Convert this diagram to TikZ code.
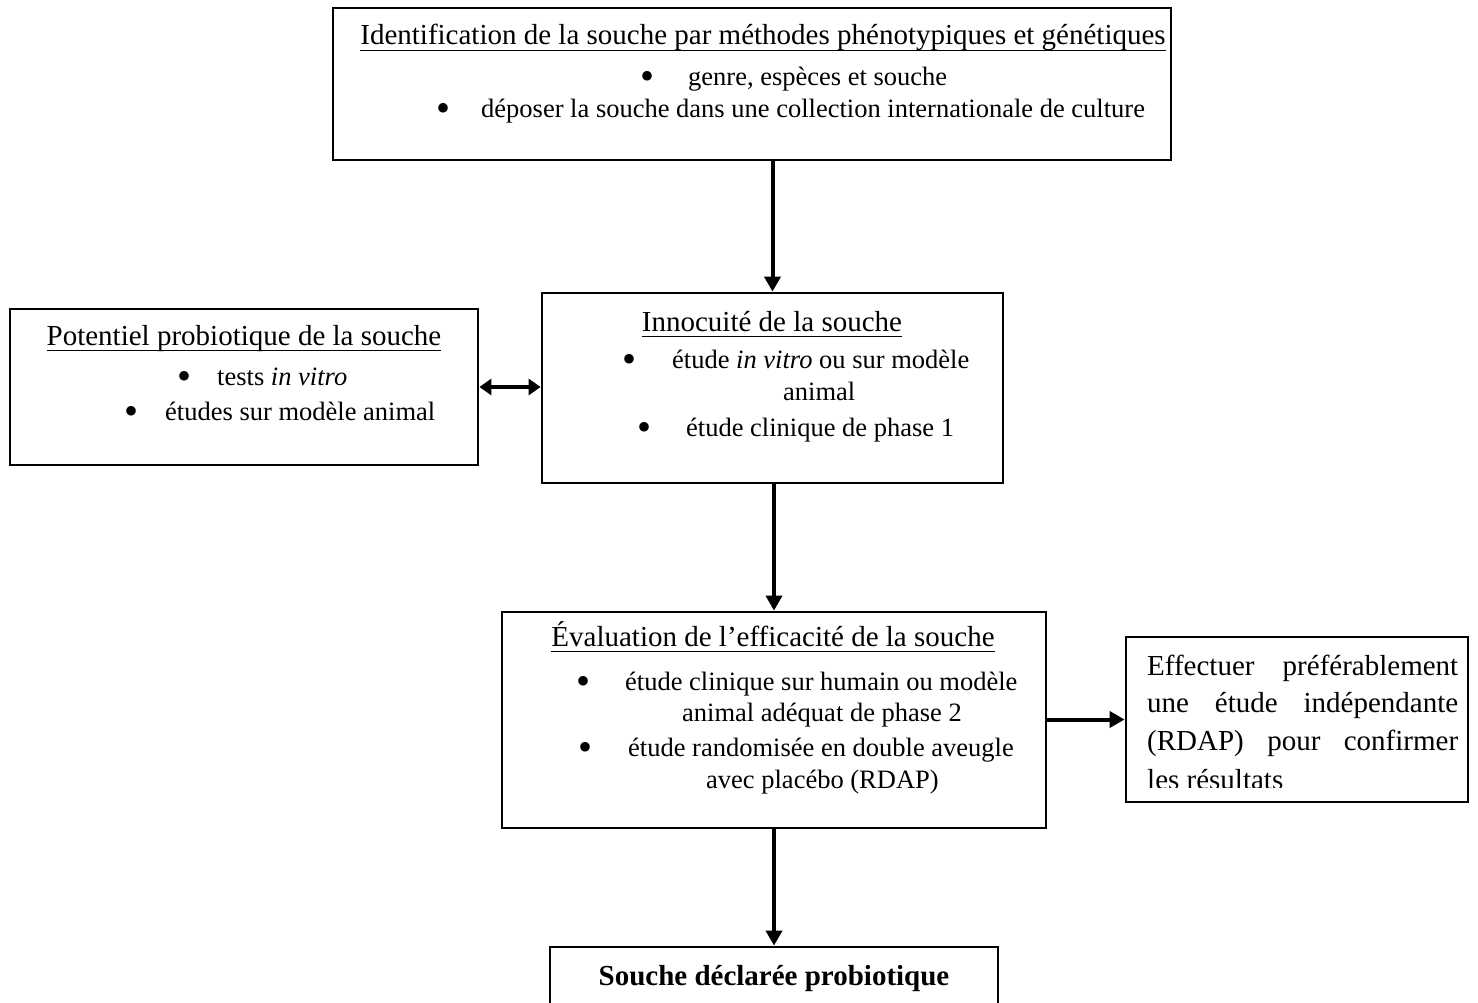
\documentclass[tikz,border=0pt]{standalone}
\usepackage{fontspec}
\setmainfont{Liberation Serif}
\usetikzlibrary{arrows.meta}
\newcommand\bodyf{\fontsize{26.5}{32}\selectfont}
\newcommand\titlef{\fontsize{29}{35}\selectfont}
\newcommand\myul[1]{\setbox0\hbox{#1}\rlap{\rule[-6.4pt]{\wd0}{1.5pt}}\box0}
\newcommand\bigbul{\raisebox{-4pt}{\fontsize{40}{40}\selectfont •}}
\tikzset{
  box/.style={draw, line width=2.8pt, rectangle, inner sep=0pt, fill=white},
  arr/.style={line width=4pt, -{Triangle[length=15pt,width=16pt]}},
  darr/.style={line width=4pt, {Triangle[length=12pt,width=16pt]}-{Triangle[length=12pt,width=16pt]}},
  ln/.style={anchor=base west, inner sep=0pt, font=\bodyf},
  rl/.style={anchor=base west, inner sep=0pt, font=\titlef},
  ttl/.style={anchor=base, inner sep=0pt, font=\titlef},
  bul/.style={anchor=base, inner sep=0pt, font=\bodyf},
}
\begin{document}
\begin{tikzpicture}[x=1pt,y=-1pt]
\clip (0,0) rectangle (1478,1003);
\fill[white] (0,0) rectangle (1478,1003);

% boxes
\node[box, minimum width=838pt, minimum height=152pt] (top) at (752,84) {};
\node[box, minimum width=461pt, minimum height=190pt] (inno) at (772.5,388) {};
\node[box, minimum width=468pt, minimum height=156pt] (pot) at (244,387) {};
\node[box, minimum width=544pt, minimum height=216pt] (eval) at (774,720) {};
\node[box, minimum width=342pt, minimum height=165pt] (conf) at (1297,719.5) {};
\node[box, minimum width=448pt, minimum height=83pt] (decl) at (774,988.5) {};

% top box text
\node[ttl] (t0) at (763,45) {\myul{Identification de la souche par méthodes phénotypiques et génétiques}};
\node[bul] (tb1) at (647,86) {\bigbul};
\node[ln] (t1) at (688,86) {genre, espèces et souche};
\node[bul] (tb2) at (443,118) {\bigbul};
\node[ln] (t2) at (481,118) {déposer la souche dans une collection internationale de culture};

% innocuite text
\node[ttl] (i0) at (772,331) {\myul{Innocuité de la souche}};
\node[bul] (ib1) at (629,368) {\bigbul};
\node[ln] (i1) at (672,368) {étude \textit{in vitro} ou sur modèle};
\node[ln] (i2) at (783,400) {animal};
\node[bul] (ib3) at (644,436) {\bigbul};
\node[ln] (i3) at (686,436) {étude clinique de phase 1};

% potentiel text
\node[ttl] (p0) at (244,345) {\myul{Potentiel probiotique de la souche}};
\node[bul] (pb1) at (184,385) {\bigbul};
\node[ln] (p1) at (217,385) {tests \textit{in vitro}};
\node[bul] (pb2) at (132,420) {\bigbul};
\node[ln] (p2) at (165,420) {études sur modèle animal};

% evaluation text
\node[ttl] (e0) at (773,646) {\myul{Évaluation de l’efficacité de la souche}};
\node[bul] (eb1) at (583,690) {\bigbul};
\node[ln] (e1) at (625,690) {étude clinique sur humain ou modèle};
\node[ln] (e2) at (682,721) {animal adéquat de phase 2};
\node[bul] (eb3) at (585,756) {\bigbul};
\node[ln] (e3) at (628,756) {étude randomisée en double aveugle};
\node[ln] (e4) at (706,788) {avec placébo (RDAP)};

% confirmation text
\node[rl] (c1) at (1147,675) {\makebox[311pt][l]{Effectuer\hfill préférablement}};
\node[rl] (c2) at (1147,712) {\makebox[311pt][l]{une\hfill étude\hfill indépendante}};
\node[rl] (c3) at (1147,750) {\makebox[311pt][l]{(RDAP)\hfill pour\hfill confirmer}};
\begin{scope}
\clip (1128,640) rectangle (1466,787);
\node[rl] (c4) at (1147,789) {les résultats};
\end{scope}

% final text
\node[anchor=base, inner sep=0pt, font=\fontsize{29}{35}\selectfont\bfseries] (d0) at (774,985) {Souche déclarée probiotique};

% connectors
\draw[arr] (top.south -| inno.north) -- (inno.north);
\draw[arr] (inno.south -| eval.north) -- (eval.north);
\draw[arr] (eval.south) -- (decl.north);
\draw[arr] (eval.east |- conf.west) -- (conf.west);
\draw[darr] (pot.east) -- (pot.east -| inno.west);
\end{tikzpicture}
\end{document}
